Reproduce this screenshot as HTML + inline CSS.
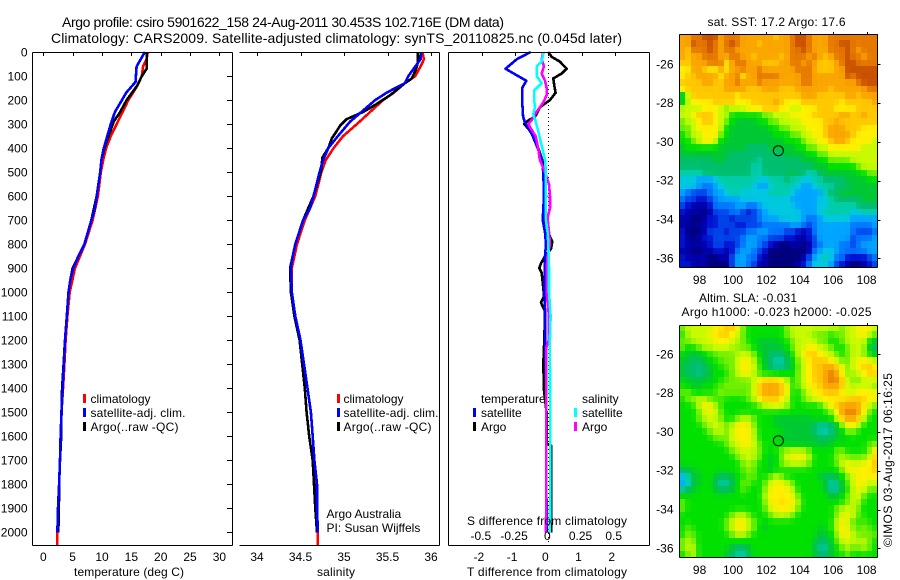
<!DOCTYPE html>
<html>
<head>
<meta charset="utf-8">
<title>Argo profile</title>
<style>
html,body{margin:0;padding:0;background:#fff;width:900px;height:580px;overflow:hidden}
svg{display:block}
text{font-family:"Liberation Sans",sans-serif;font-size:12px;fill:#000}
</style>
</head>
<body>
<svg id="fig" xmlns="http://www.w3.org/2000/svg" width="900" height="580" viewBox="0 0 900 580">
<g id="plots"></g>

<text x="62" y="27" font-size="14" style="font-size:14px" textLength="442">Argo profile: csiro 5901622_158 24-Aug-2011 30.453S 102.716E (DM data)</text>
<text x="51" y="43" style="font-size:14px" textLength="571">Climatology: CARS2009. Satellite-adjusted climatology: synTS_20110825.nc (0.045d later)</text>

<text x="74" y="576" textLength="110">temperature (deg C)</text>
<text x="317" y="576" textLength="38">salinity</text>
<text x="467" y="576" textLength="160">T difference from climatology</text>
<text x="467" y="525" textLength="160">S difference from climatology</text>

<rect x="83" y="394" width="3" height="9" fill="#ff0000"/>
<text x="90.5" y="403">climatology</text>
<rect x="83" y="408" width="3" height="9" fill="#0000ff"/>
<text x="90.5" y="417" textLength="95">satellite-adj. clim.</text>
<rect x="83" y="422" width="3" height="9" fill="#000"/>
<text x="90.5" y="431" textLength="88">Argo(..raw -QC)</text>

<rect x="337" y="394" width="3" height="9" fill="#ff0000"/>
<text x="343.5" y="403">climatology</text>
<rect x="337" y="408" width="3" height="9" fill="#0000ff"/>
<text x="343.5" y="417" textLength="95">satellite-adj. clim.</text>
<rect x="337" y="422" width="3" height="9" fill="#000"/>
<text x="343.5" y="431" textLength="88">Argo(..raw -QC)</text>

<text x="326.5" y="518">Argo Australia</text>
<text x="326.5" y="532">PI: Susan Wijffels</text>

<text x="481" y="403">temperature</text>
<text x="582" y="403">salinity</text>
<rect x="473" y="408" width="3" height="9" fill="#0000ff"/>
<text x="481" y="417">satellite</text>
<rect x="473" y="422" width="3" height="9" fill="#000"/>
<text x="481" y="431">Argo</text>
<rect x="574" y="408" width="3" height="9" fill="#00ffff"/>
<text x="582" y="417">satellite</text>
<rect x="574" y="422" width="3" height="9" fill="#ff00ff"/>
<text x="582" y="431">Argo</text>

<text x="707.5" y="26" textLength="138">sat. SST: 17.2 Argo: 17.6</text>
<text x="699" y="302" textLength="98">Altim. SLA: -0.031</text>
<text x="681.5" y="316" textLength="190">Argo h1000: -0.023 h2000: -0.025</text>
<text transform="translate(892,547) rotate(-90)" textLength="174">©IMOS 03-Aug-2017 06:16:25</text>
</svg>

<script>
// ---------- Profile panels: depth ticks ----------
const depthTicks = [0,100,200,300,400,500,600,700,800,900,1000,1100,1200,1300,1400,1500,1600,1700,1800,1900,2000];
const tempTicks = [0,5,10,15,20,25,30];
const salTicks = [34,34.5,35,35.5,36];
const salTickLabels = ["34","34.5","35","35.5","36"];
const tDiffTicks = [-2,-1,0,1,2];
const tDiffTickLabels = ["-2","-1","0","1","2"];
const sDiffTicks = [-0.5,-0.25,0,0.25,0.5];
const sDiffTickLabels = ["-0.5","-0.25","0","0.25","0.5"];
const lonTicks = [98,100,102,104,106,108];
const latTicks = [-26,-28,-30,-32,-34,-36];

// ---------- Temperature series ----------
const tempClimDepth = [0,30,60,100,150,200,250,300,350,400,450,500,600,700,800,900,1000,1100,1200,1300,1400,1500,1600,1700,1800,1900,2000,2053];
const tempClimValue = [17.8,17.6,17.0,16.8,15.8,14.5,13.5,12.5,11.5,10.7,10.2,9.8,9.3,8.4,7.1,5.4,4.5,4.1,3.8,3.6,3.35,3.1,2.95,2.85,2.7,2.5,2.4,2.4];
const tempArgoDepth = [0,70,100,140,200,250,290,350,400,450,500,600,700,800,850,900,950,1000,1100,1200,1300,1400,1500,1600,1700,1800,1900,2000];
const tempArgoValue = [17.6,17.6,16.8,16.0,14.2,13.1,12.0,11.1,10.4,9.9,9.7,9.1,8.2,7.0,6.0,5.0,4.6,4.3,4.0,3.7,3.45,3.2,3.1,3.05,2.85,2.7,2.65,2.55];
const tempSatDepth = [0,60,125,170,200,250,300,400,450,500,600,650,700,800,850,900,950,1000,1100,1200,1300,1400,1500,1600,1700,1800,1900,2000];
const tempSatValue = [17.3,15.9,15.7,14.1,13.4,12.2,11.5,10.3,9.9,9.7,9.1,8.8,8.2,7.0,6.0,5.1,4.6,4.3,4.0,3.7,3.5,3.3,3.1,2.95,2.85,2.7,2.5,2.4];

// ---------- Salinity series ----------
const salClimDepth = [0,30,60,100,130,170,200,250,300,350,400,450,500,600,700,800,900,1000,1100,1200,1300,1400,1500,1600,1700,1800,1900,2000,2053];
const salClimValue = [35.9,35.92,35.88,35.82,35.7,35.57,35.45,35.3,35.15,34.99,34.88,34.79,34.74,34.67,34.55,34.46,34.4,34.4,34.44,34.5,34.54,34.58,34.62,34.64,34.66,34.68,34.69,34.7,34.7];
const salArgoDepth = [0,40,70,110,130,180,220,250,280,305,360,400,440,490,600,700,800,900,1000,1100,1200,1300,1400,1500,1600,1700,1800,1900,2000];
const salArgoValue = [35.85,35.85,35.83,35.78,35.7,35.53,35.36,35.22,35.03,34.96,34.86,34.82,34.75,34.74,34.65,34.53,34.44,34.38,34.39,34.43,34.49,34.52,34.55,34.57,34.6,34.64,34.655,34.67,34.69];
const salSatDepth = [0,30,60,100,130,150,170,200,250,290,350,400,450,500,600,650,700,800,850,900,1000,1100,1200,1300,1400,1500,1600,1700,1800,1900,2000];
const salSatValue = [35.89,35.88,35.82,35.74,35.7,35.59,35.49,35.36,35.2,35.07,34.93,34.82,34.76,34.72,34.65,34.61,34.53,34.44,34.41,34.39,34.4,34.44,34.5,34.54,34.58,34.62,34.64,34.66,34.69,34.69,34.7];

// ---------- Difference series (T in deg C, S in psu) ----------
const tDiffArgoDepth = [0,20,40,70,90,110,140,170,200,230,270,285,300,320,350,400,450,500,600,700,760,790,820,850,880,900,920,960,1000,1020,1044,1080,1100,1230,1300,1410,1500,1630,1640,2000];
const tDiffArgoValue = [0,0.1,0.35,0.55,0.4,0.15,0.18,0.22,0.05,-0.25,-0.4,-0.6,-0.73,-0.6,-0.45,-0.3,-0.18,-0.12,-0.07,-0.1,0.02,0.12,0.08,-0.1,-0.22,-0.27,-0.2,-0.17,-0.14,-0.14,-0.22,-0.1,-0.1,-0.13,-0.15,-0.13,-0.05,-0.05,0.09,0.09];
const tDiffSatDepth = [0,30,70,120,150,200,270,290,340,400,450,500,600,700,750,800,850,1000,1100,1200,1400,1700,2000];
const tDiffSatValue = [-0.53,-0.95,-1.29,-0.66,-0.79,-0.79,-0.76,-0.71,-0.5,-0.32,-0.2,-0.15,-0.13,-0.17,-0.1,-0.07,-0.1,-0.12,-0.09,-0.1,-0.06,-0.06,-0.05];
const sDiffArgoDepth = [0,30,60,90,120,150,180,210,240,260,280,300,320,350,400,450,500,550,600,650,690,750,800,850,900,1000,1100,1200,1230,1400,1800,2000];
const sDiffArgoValue = [-0.038,-0.05,-0.033,-0.05,-0.025,-0.013,-0.013,-0.038,-0.076,-0.1,-0.12,-0.15,-0.13,-0.096,-0.076,-0.063,-0.025,0.005,0.013,0.013,-0.005,0.005,0.013,-0.005,-0.013,-0.013,0.005,0.003,-0.014,-0.014,-0.014,-0.018];
const sDiffSatDepth = [0,40,60,100,130,160,200,230,260,280,320,360,400,450,500,600,700,750,800,900,1000,1100,1200,1400,1600,1800,2000];
const sDiffSatValue = [-0.035,-0.05,-0.088,-0.088,-0.05,-0.106,-0.106,-0.1,-0.114,-0.1,-0.08,-0.063,-0.045,-0.025,-0.018,-0.018,-0.018,-0.005,0,0.005,0.005,0.017,0.012,0.013,0.016,0.014,0.012];

// ---------- Map colour scale (level index -> colour) ----------
const levelColors = ["#00007c","#0000aa","#0014d2","#0046eb","#0078ff","#00a5ff","#00c8e1","#00cdaa","#00be6e","#00c832","#00e100","#6ef000","#c8fa00","#fff000","#ffc800","#faa500","#e67800","#c85000"];

// ---------- SST map (colour level per cell, north to south) ----------
const sstLevels = [
[15,15,16,16,17,17,17,15,16,16,16,15,15,15,15,15,15,14,15,15,16,17,17,16,15,15,15,16,16,16,16,16,16,16,16,16],
[15,15,17,16,16,17,16,15,16,17,16,15,15,15,14,15,15,15,15,15,16,17,17,16,15,15,15,16,16,17,17,16,16,16,16,16],
[15,14,16,16,16,17,16,15,16,16,15,15,15,15,15,15,15,15,15,15,16,16,17,16,15,15,15,16,16,16,17,16,15,16,16,16],
[15,14,15,15,16,16,16,15,15,16,16,15,15,14,15,15,15,15,14,15,16,16,16,15,16,15,14,15,16,16,17,16,16,15,16,16],
[14,14,15,15,15,16,16,16,13,15,16,16,15,15,15,14,14,14,15,15,16,16,15,16,15,14,14,14,15,16,17,17,16,16,16,16],
[13,13,15,15,14,13,13,15,13,15,15,16,15,15,16,15,15,15,15,15,15,16,16,16,15,14,14,14,15,15,17,17,17,17,17,17],
[13,14,14,15,15,15,15,13,15,15,16,13,15,15,16,16,16,16,15,15,15,15,16,16,15,15,15,15,15,15,17,16,17,17,17,17],
[14,14,14,14,15,15,14,14,15,15,16,15,15,15,16,15,15,15,15,15,15,15,16,16,15,15,15,15,15,15,15,15,16,17,17,17],
[13,14,14,14,14,14,14,14,15,15,15,15,14,14,14,15,15,15,14,14,14,15,15,15,15,15,15,14,15,15,15,15,15,15,16,16],
[9,12,14,14,14,14,14,14,14,14,13,14,14,14,14,14,14,14,14,14,14,14,15,15,15,14,14,14,14,14,15,15,14,15,15,15],
[9,12,13,13,13,13,14,14,14,14,13,13,13,14,14,14,14,15,14,13,13,13,14,14,14,14,14,14,14,13,14,14,14,14,14,15],
[12,12,12,12,13,13,13,12,11,12,12,12,13,13,13,14,14,14,13,13,12,12,13,13,13,14,14,14,13,13,13,13,14,14,14,14],
[12,12,13,14,14,14,13,12,12,10,10,10,10,10,10,11,11,12,12,12,13,13,13,13,14,14,14,14,14,15,15,14,14,15,14,14],
[11,12,12,13,14,14,13,12,11,10,9,9,9,9,10,10,11,11,12,12,12,12,13,13,13,13,14,14,15,14,14,14,14,14,14,14],
[11,11,12,13,13,13,13,12,10,9,9,9,9,9,9,9,10,10,11,11,12,12,12,13,13,13,14,15,15,15,14,14,14,13,13,13],
[10,11,12,12,13,13,13,11,10,9,9,9,9,9,9,9,9,10,10,10,11,11,12,12,13,13,14,15,15,15,15,14,13,13,13,13],
[10,10,11,12,13,13,12,10,9,9,9,9,9,9,9,9,9,9,9,10,10,10,11,12,12,13,13,14,15,15,14,13,13,13,13,12],
[9,10,10,10,10,10,10,9,9,9,9,9,8,8,8,8,9,9,9,9,9,10,10,11,11,12,12,13,13,13,13,13,13,12,12,12],
[9,9,9,9,9,9,9,9,9,8,8,8,8,8,8,8,8,8,8,9,9,9,9,10,10,11,11,12,12,12,12,12,12,12,12,12],
[8,8,8,8,8,8,9,9,8,8,8,8,8,8,7,8,8,8,8,8,8,8,9,9,9,10,10,11,11,11,11,12,12,12,12,12],
[8,8,8,8,8,8,8,8,8,8,8,8,8,7,7,8,8,8,8,8,8,8,8,8,9,9,9,10,10,10,10,10,11,12,12,12],
[7,7,7,7,8,8,8,8,8,8,8,8,8,7,7,8,8,8,8,8,9,8,8,7,7,8,9,9,9,9,9,9,10,10,11,11],
[6,6,6,5,5,5,6,7,7,7,7,7,7,7,6,6,7,7,7,8,7,7,6,6,7,7,8,8,8,8,9,9,9,9,10,10],
[6,6,6,5,4,4,5,6,7,7,7,7,7,6,5,5,6,7,7,7,7,6,5,5,6,7,7,7,8,8,8,9,9,9,9,9],
[5,4,3,3,3,4,5,5,6,7,7,6,6,6,6,6,7,7,7,7,6,5,5,5,5,5,7,8,8,9,9,9,9,9,9,9],
[4,3,3,2,2,3,4,5,5,5,5,6,6,6,6,6,6,6,6,6,5,5,5,5,5,6,6,7,8,8,8,8,8,9,9,9],
[3,2,1,1,1,2,4,4,4,4,5,5,4,4,5,6,6,6,6,6,6,5,5,5,5,6,6,7,7,7,7,7,8,8,8,8],
[2,1,1,1,0,1,3,3,3,4,4,3,2,3,4,5,6,6,6,6,6,6,5,5,5,6,7,7,7,7,7,6,6,7,7,7],
[1,1,0,0,1,2,2,3,3,2,3,3,3,3,4,5,5,5,6,6,6,6,5,4,4,5,6,6,6,6,6,5,5,5,5,5],
[1,1,0,1,1,2,2,3,3,3,2,2,3,3,3,4,4,4,4,4,5,5,4,3,4,5,5,5,5,5,5,4,4,4,4,5],
[2,0,0,0,1,3,3,3,2,3,3,3,4,4,5,5,4,4,4,3,3,2,1,2,4,5,5,5,5,5,5,4,3,3,3,4],
[2,1,0,1,2,2,3,3,3,3,3,4,5,5,4,4,3,3,3,2,2,1,1,2,3,5,5,5,5,5,5,3,4,4,4,5],
[2,1,1,1,1,2,3,3,2,2,3,4,5,5,4,3,2,1,0,0,1,1,0,1,3,4,5,5,5,4,4,3,4,5,5,5],
[1,1,0,0,1,1,2,2,1,2,4,5,5,4,3,2,0,0,0,0,0,0,0,1,4,5,6,6,5,4,4,4,4,4,5,5],
[2,1,1,1,1,0,0,1,1,3,5,5,4,4,2,1,0,0,0,0,0,0,1,3,5,6,7,6,4,4,2,2,2,2,3,4],
[2,2,1,1,1,0,0,0,0,3,5,5,4,3,1,1,0,0,0,0,0,1,2,4,6,6,6,5,3,2,1,0,0,1,2,3]
];

// ---------- SLA map (colour level per cell, north to south) ----------
const slaLevels = [
[11,12,12,12,12,12,13,13,14,14,13,11,10,10,10,10,10,10,10,11,12,12,12,12,12,12,12,12,12,11,12,12,13,13,13,12],
[10,12,12,12,12,13,13,14,14,13,12,11,10,10,10,10,10,10,10,11,12,12,12,12,11,11,11,10,11,11,12,12,13,13,12,11],
[11,11,12,12,12,12,13,13,13,12,12,11,10,10,9,9,9,9,10,10,11,12,12,12,12,11,11,10,10,11,12,12,12,12,10,9],
[11,10,10,11,12,12,12,12,12,12,11,11,11,10,9,9,9,9,9,10,11,12,12,13,13,12,12,11,10,10,11,12,12,12,9,8],
[10,9,9,9,10,10,11,11,11,11,12,12,12,11,10,9,8,8,8,9,10,12,13,14,14,13,12,12,11,10,11,12,12,11,10,9],
[9,9,8,8,9,10,10,11,11,11,12,13,13,12,10,9,8,7,7,8,10,11,12,13,14,14,14,13,12,11,11,12,13,13,13,12],
[9,8,8,8,8,9,10,10,11,11,12,13,13,12,11,9,8,7,7,8,9,11,12,13,14,14,15,15,14,13,11,12,13,14,14,13],
[9,8,8,7,8,9,10,10,10,11,12,13,13,12,10,10,10,10,10,10,10,11,12,13,14,14,15,16,15,13,11,12,12,13,14,14],
[10,9,9,9,9,9,10,10,11,11,11,11,11,12,13,14,14,14,13,12,10,11,12,13,14,14,15,16,16,14,12,11,11,12,12,12],
[10,10,9,9,10,10,10,11,11,11,11,11,11,12,14,15,15,15,14,13,10,11,12,13,13,14,15,15,15,14,12,12,12,12,12,11],
[11,11,10,10,10,10,11,11,11,11,11,11,11,12,14,15,15,15,14,13,10,10,11,12,13,13,14,14,14,13,12,12,13,13,13,13],
[10,11,12,12,12,11,10,11,10,10,10,10,11,12,13,14,14,14,13,12,10,10,11,12,12,13,13,13,13,13,14,14,14,14,13,13],
[10,10,10,12,13,13,12,10,10,10,10,10,10,10,11,12,12,13,12,12,10,10,10,10,10,10,12,13,14,15,15,15,15,13,12,11],
[10,10,10,11,12,13,12,11,10,10,10,10,10,10,10,10,10,10,10,10,10,10,10,10,10,10,10,11,13,15,16,16,15,13,11,10],
[10,10,10,11,12,12,12,11,10,10,11,12,12,11,10,10,10,9,9,9,9,9,9,9,10,10,10,10,12,14,15,15,14,12,10,10],
[10,10,10,10,11,12,12,12,11,12,13,13,13,11,10,10,10,9,9,9,9,9,9,9,8,7,7,8,9,11,13,13,12,10,10,10],
[10,10,10,10,10,11,12,12,11,12,13,13,13,12,10,10,10,10,10,9,9,9,9,9,8,7,7,7,9,10,11,11,10,10,10,10],
[10,10,10,10,10,10,11,11,11,12,13,13,13,12,10,10,10,10,9,9,9,9,9,9,9,8,8,9,9,9,10,10,10,10,10,10],
[10,10,10,10,10,10,10,10,11,12,12,13,13,12,11,10,10,10,10,9,9,9,9,9,9,9,9,9,10,10,10,10,10,10,11,11],
[10,10,10,10,10,10,10,10,10,11,12,12,12,12,11,10,10,10,11,12,12,12,12,11,10,10,10,10,11,11,10,10,10,10,11,13],
[10,10,10,10,10,10,10,10,10,10,11,12,12,12,11,10,9,10,11,12,13,13,13,12,10,10,10,10,11,12,11,11,11,11,12,14],
[10,10,10,10,10,10,10,10,10,10,10,11,12,11,10,10,9,10,11,12,12,12,12,11,10,10,10,10,11,12,13,12,12,13,13,14],
[8,9,9,10,10,10,10,10,10,10,10,11,11,11,10,10,9,10,10,10,10,10,10,10,10,10,10,10,10,11,13,13,13,13,13,14],
[5,7,9,9,10,10,9,8,8,9,10,10,11,11,10,10,11,12,11,10,10,10,10,10,10,9,8,8,9,10,11,12,13,13,13,13],
[5,6,9,9,10,10,8,7,7,8,10,11,11,10,10,11,12,13,13,12,11,10,10,10,10,10,9,7,7,9,11,12,13,13,12,12],
[7,8,9,10,10,10,9,8,8,9,10,11,10,10,10,11,13,13,13,13,12,10,10,10,10,10,9,7,7,9,10,12,13,12,11,11],
[10,10,10,10,10,10,10,10,10,10,10,10,10,10,10,12,13,13,13,13,13,11,10,10,10,10,10,9,9,10,11,12,12,11,10,10],
[11,10,10,10,10,10,10,10,10,10,10,10,10,10,10,11,13,13,14,13,13,12,10,10,10,10,10,10,10,10,11,12,12,10,10,10],
[11,10,10,10,10,10,10,10,10,10,10,10,10,10,10,11,12,13,13,13,13,11,10,10,10,10,10,10,11,12,12,12,11,10,10,10],
[10,10,10,10,10,10,10,10,10,11,12,12,11,10,10,10,11,12,12,12,11,10,10,10,10,10,10,10,11,12,13,12,11,10,10,10],
[10,10,10,10,10,10,10,10,11,12,13,13,12,11,10,10,10,10,10,10,10,10,10,10,10,10,10,10,12,13,12,11,10,11,10,10],
[10,11,10,10,10,10,10,10,11,12,13,13,12,11,10,9,10,10,10,10,10,10,10,10,10,9,10,10,12,13,13,11,11,11,11,10],
[10,11,11,10,10,10,10,10,10,11,12,12,11,10,10,10,10,10,10,10,10,10,10,10,10,9,9,10,11,13,13,12,11,11,11,11],
[11,12,11,10,10,10,10,10,10,10,10,10,10,10,10,10,10,10,10,10,10,10,10,10,9,8,8,9,11,12,12,12,12,12,11,10],
[11,12,12,10,10,10,10,10,10,9,8,8,9,10,10,10,10,10,10,10,10,10,10,10,9,7,7,9,10,11,12,11,11,12,11,10],
[10,11,12,10,10,10,10,10,9,8,7,7,8,10,10,10,10,10,10,10,10,10,10,10,9,8,8,9,10,10,11,10,10,10,10,10]
];

// Argo float position
const floatLon = [102.716];
const floatLat = [-30.453];

// ---------- Drawing ----------
const NS = 'http://www.w3.org/2000/svg';
const plots = document.getElementById('plots');

function mk(tag, attrs, parent) {
  const el = document.createElementNS(NS, tag);
  for (const k in attrs) el.setAttribute(k, attrs[k]);
  (parent || plots).appendChild(el);
  return el;
}

// axis functions
const depthY = d => 52 + d * 0.24015;
const tempX = t => 43.3 + t * 5.87;
const salX = s => 257 + (s - 34) * 87;
const tDiffX = t => 548.3 + t * 33.2;
const sDiffX = s => 548.3 + s * 132.8;
const lonX = lon => 733 + (lon - 100) * 16.7;
const sstLatY = lat => 64.3 + (-26 - lat) * 19.4;
const slaLatY = lat => 354.3 + (-26 - lat) * 19.4;

function drawFrame(name, x0, y0, x1, y1, sides) {
  const d = sides.map(s => s === 't' ? `M${x0} ${y0}H${x1}` : s === 'b' ? `M${x0} ${y1}H${x1}` : s === 'l' ? `M${x0} ${y0}V${y1}` : `M${x1} ${y0}V${y1}`).join('');
  const el = mk('path', {d: d, fill: 'none', stroke: '#000', 'stroke-width': 1, 'shape-rendering': 'crispEdges'});
  
  
}

function drawProfile(name, xs, ds, xFn, color) {
  const pts = ds.map((d, i) => xFn(xs[i]).toFixed(1) + ',' + depthY(d).toFixed(1)).join(' ');
  const el = mk('polyline', {points: pts, fill: 'none', stroke: color, 'stroke-width': 2.6, 'stroke-linejoin': 'round', 'shape-rendering': 'crispEdges'});
  
  
}

function tickLine(name, x1, y1, x2, y2) {
  const el = mk('line', {x1: x1, y1: y1, x2: x2, y2: y2, stroke: '#000', 'stroke-width': 1, 'shape-rendering': 'crispEdges'});
  
  
}

function label(name, txt, x, y, anchor) {
  const el = mk('text', {x: x, y: y, 'text-anchor': anchor});
  el.textContent = txt;
  
  
}

// continuous colour lookup between the palette levels
function levelColor(v) {
  const lo = Math.max(0, Math.min(levelColors.length - 1, Math.floor(v)));
  const hi = Math.min(levelColors.length - 1, lo + 1);
  const f = Math.max(0, Math.min(1, v - lo));
  const a = levelColors[lo], b = levelColors[hi];
  const ch = i => Math.round(parseInt(a.substr(i, 2), 16) * (1 - f) + parseInt(b.substr(i, 2), 16) * f);
  return `rgb(${ch(1)},${ch(3)},${ch(5)})`;
}

// light smoothing of the cell levels before colouring
function smoothed(levels, r, c, centre) {
  const at = (i, j) => levels[Math.max(0, Math.min(levels.length - 1, i))][Math.max(0, Math.min(levels[0].length - 1, j))];
  return (centre * at(r, c) + at(r - 1, c) + at(r + 1, c) + at(r, c - 1) + at(r, c + 1)) / (centre + 4);
}

// series
drawProfile('temperature-climatology-line', tempClimValue, tempClimDepth, tempX, '#ff0000');
drawProfile('temperature-argo-line', tempArgoValue, tempArgoDepth, tempX, '#000000');
drawProfile('temperature-satellite-line', tempSatValue, tempSatDepth, tempX, '#0000ff');
drawProfile('salinity-climatology-line', salClimValue, salClimDepth, salX, '#ff0000');
drawProfile('salinity-argo-line', salArgoValue, salArgoDepth, salX, '#000000');
drawProfile('salinity-satellite-line', salSatValue, salSatDepth, salX, '#0000ff');

// zero line
const zeroEl = mk('line', {x1: tDiffX(0), y1: 53, x2: tDiffX(0), y2: 545, stroke: '#000', 'stroke-width': 1, 'stroke-dasharray': '1 3', 'shape-rendering': 'crispEdges'});



drawProfile('t-difference-argo-line', tDiffArgoValue, tDiffArgoDepth, tDiffX, '#000000');
drawProfile('t-difference-satellite-line', tDiffSatValue, tDiffSatDepth, tDiffX, '#0000ff');
drawProfile('s-difference-argo-line', sDiffArgoValue, sDiffArgoDepth, sDiffX, '#ff00ff');
drawProfile('s-difference-satellite-line', sDiffSatValue, sDiffSatDepth, sDiffX, '#00ffff');

// frames
drawFrame('temperature-panel-frame', 32.5, 52.5, 232.5, 545.5, ['t','b','l','r']);
drawFrame('salinity-panel-frame', 239.5, 52.5, 439.5, 545.5, ['t','b','r']);
drawFrame('difference-panel-frame', 448.5, 52.5, 649.5, 545.5, ['t','b','l','r']);

// depth ticks + labels
depthTicks.forEach(d => {
  const y = Math.round(depthY(d)) + 0.5;
  tickLine('depth-tick', 227, y, 232, y);
  label('depth-tick-label', String(d), 27.5, Math.round(depthY(d)) + 4.5, 'end');
});

tempTicks.forEach(t => {
  const x = Math.round(tempX(t)) + 0.5;
  tickLine('temperature-tick', x, 52, x, 56);
  label('temperature-tick-label', String(t), tempX(t), 561, 'middle');
});

salTicks.forEach((s, i) => {
  const x = Math.round(salX(s)) + 0.5;
  tickLine('salinity-tick', x, 52, x, 56);
  label('salinity-tick-label', salTickLabels[i], salX(s), 561, 'middle');
});

tDiffTicks.forEach((t, i) => {
  const x = Math.round(tDiffX(t)) + 0.5;
  tickLine('t-difference-tick', x, 52, x, 56);
  label('t-difference-tick-label', tDiffTickLabels[i], tDiffX(t) - 3, 561, 'middle');
});

sDiffTicks.forEach((s, i) => {
  label('s-difference-tick-label', sDiffTickLabels[i], sDiffX(s) - 1, 540, 'middle');
});

// maps
function drawMap(mapName, levels, latFn, top, bottom, centre) {
  const left = 679.5, right = 877.5;
  const nRows = levels.length;
  const rowH = (bottom - top) / nRows;
  levels.forEach((row, r) => {
    const colW = (right - left) / row.length;
    row.forEach((v, c) => {
      const x0 = Math.round(left + c * colW), x1 = Math.round(left + (c + 1) * colW);
      const y0 = Math.round(top + r * rowH), y1 = Math.round(top + (r + 1) * rowH);
      const cell = mk('rect', {x: x0, y: y0, width: x1 - x0, height: y1 - y0, fill: levelColor(smoothed(levels, r, c, centre)), 'shape-rendering': 'crispEdges'});
      
      
    });
  });
  drawFrame(mapName + '-frame', left, top + 0.5, right, bottom + 0.5, ['t','b','l','r']);
  lonTicks.forEach(lon => {
    const x = Math.round(lonX(lon)) + 0.5;
    tickLine(mapName + '-lon-tick', x, top - 2, x, top);
    label(mapName + '-lon-label', String(lon), lonX(lon), bottom + 17, 'middle');
  });
  latTicks.forEach(lat => {
    const y = Math.round(latFn(lat)) + 0.5;
    tickLine(mapName + '-lat-tick', right, y, right + 3, y);
    label(mapName + '-lat-label', String(lat), 673.5, latFn(lat) + 4, 'end');
  });
  floatLon.forEach((lon, i) => {
    const m = mk('circle', {cx: lonX(lon), cy: latFn(floatLat[i]), r: 5, fill: 'none', stroke: '#000', 'stroke-width': 1});
    
    
  });
}
drawMap('sst-map', sstLevels, sstLatY, 34, 267, 8);
drawMap('sla-map', slaLevels, slaLatY, 325, 557, 3);
</script>
</body>
</html>
